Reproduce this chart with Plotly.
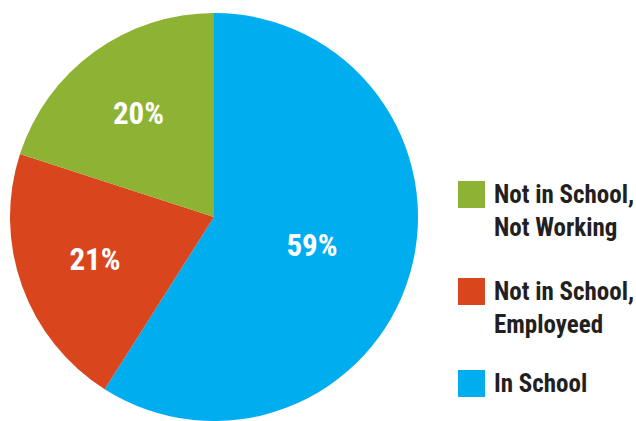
import plotly.graph_objects as go

labels = ["In School", "Not in School, Employeed", "Not in School, Not Working"]
legend_labels = ["In School", "Not in School,<br>Employeed", "Not in School,<br>Not Working"]
values = [59, 21, 20]
colors = ["#00AEEF", "#D9461E", "#8DB234"]

W, H = 636, 421
FONT = "Liberation Sans Narrow, Roboto Condensed, Arial Narrow, Liberation Sans, sans-serif"

fig = go.Figure()
fig.add_trace(go.Pie(
    labels=labels,
    values=values,
    sort=False,
    direction="clockwise",
    rotation=0,
    marker=dict(colors=colors, line=dict(width=0)),
    texttemplate="%{value}%",
    textposition="inside",
    insidetextorientation="horizontal",
    textfont=dict(family=FONT, size=31, color="white", weight="bold"),
    domain=dict(x=[10 / W, 418 / W], y=[0, 408 / H]),
    showlegend=False,
    hoverinfo="label+percent",
))

# Custom legend (order: Not Working, Employed, In School)
legend_y_top = [181, 278, 370]
order = [2, 1, 0]
for k, i in enumerate(order):
    y0 = legend_y_top[k]
    fig.add_shape(type="rect", xref="paper", yref="paper",
                  x0=458 / W, x1=485 / W,
                  y0=1 - (y0 + 27) / H, y1=1 - y0 / H,
                  fillcolor=colors[i], line=dict(width=0))
    fig.add_annotation(xref="paper", yref="paper",
                       x=492 / W, y=1 - (y0 - 3) / H,
                       xanchor="left", yanchor="top",
                       text=legend_labels[i], showarrow=False, align="left",
                       font=dict(family=FONT, size=25, color="#231F20", weight="bold"))

fig.update_layout(
    width=W, height=H,
    margin=dict(l=0, r=0, t=0, b=0),
    paper_bgcolor="white",
    plot_bgcolor="white",
)

fig.write_html("out.html")
